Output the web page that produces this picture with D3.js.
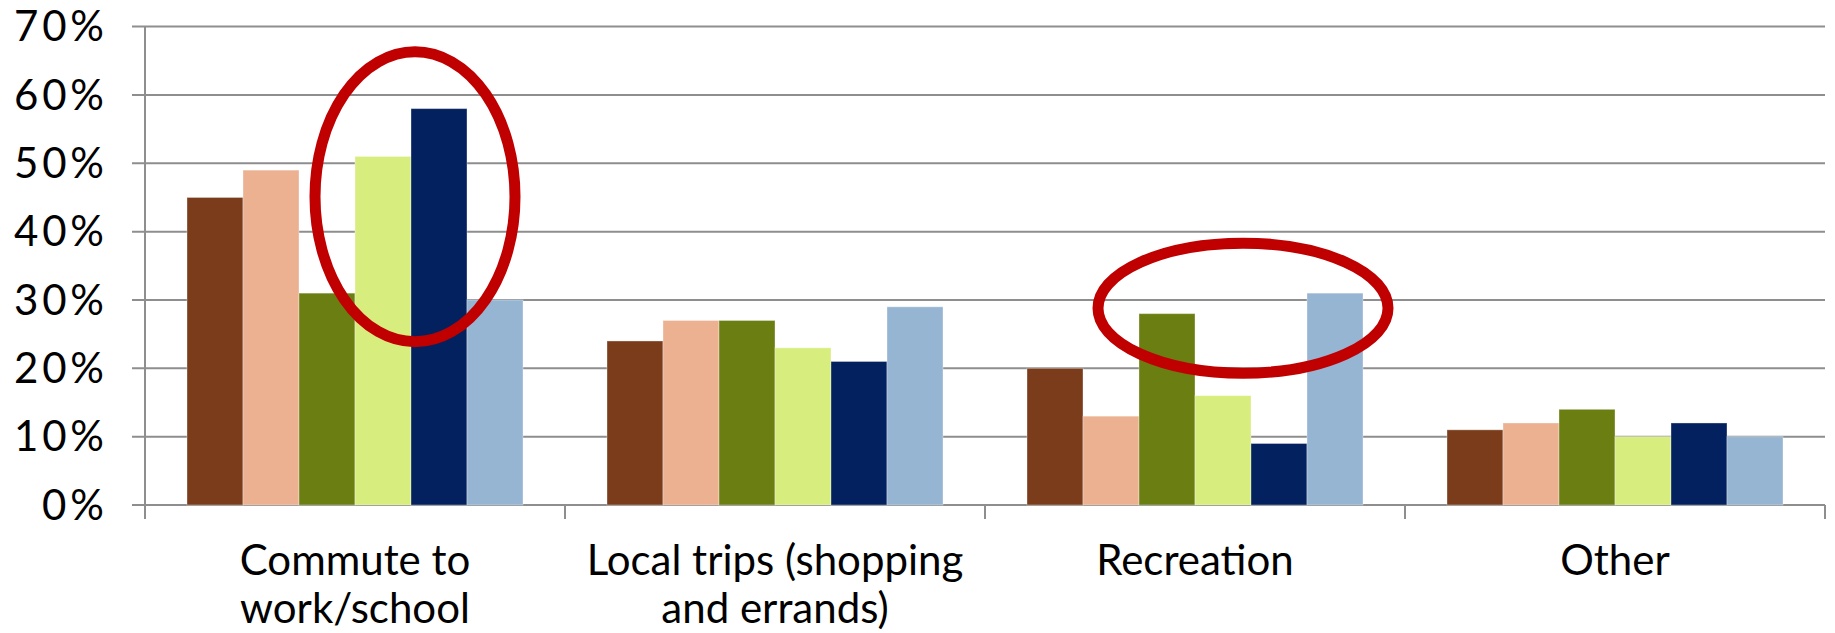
<!DOCTYPE html>
<html>
<head>
<meta charset="utf-8">
<script src="https://cdn.jsdelivr.net/npm/d3@7"></script>
<style>
  html, body { margin: 0; padding: 0; background: #fff; }
  svg { display: block; }
  text { font-family: "Lato", "Noto Sans", sans-serif; fill: #000; }
</style>
</head>
<body>
<svg id="chart" width="1835" height="633"></svg>
<script>
// Trip purpose categories (two-line labels)
const categories = ["Commute to work/school", "Local trips (shopping and errands)", "Recreation", "Other"];
const categoryLines = [["Commute to", "work/school"], ["Local trips (shopping", "and errands)"], ["Recreation"], ["Other"]];

// Six respondent groups, share of trips (%) per category
const seriesKeys = ["g1", "g2", "g3", "g4", "g5", "g6"];
const g1 = [45, 24, 20, 11];
const g2 = [49, 27, 13, 12];
const g3 = [31, 27, 28, 14];
const g4 = [51, 23, 16, 10];
const g5 = [58, 21, 9, 12];
const g6 = [30, 29, 31, 10];
const seriesValues = [g1, g2, g3, g4, g5, g6];

const yTicks = [0, 10, 20, 30, 40, 50, 60, 70];

const colors = ["#7A3C1A", "#EBB191", "#6A7E12", "#D7ED7D", "#03215E", "#95B5D3"];

const svg = d3.select("#chart");

const plotLeft = 145, plotRight = 1825, plotTop = 26.6, plotBottom = 505;

const x0 = d3.scaleBand().domain(categories).range([plotLeft, plotRight]).padding(0);
const x1 = d3.scaleBand().domain(seriesKeys)
  .range([x0.bandwidth() * 0.1, x0.bandwidth() * 0.9]).padding(0);
const y = d3.scaleLinear().domain([0, 70]).range([plotBottom, plotTop]);

const gridColor = "#8E8E8E";

// Horizontal gridlines (extend left past the axis as tick marks)
svg.append("g")
  .selectAll("line")
  .data(yTicks)
  .join("line")
  .attr("x1", plotLeft - 13)
  .attr("x2", plotRight)
  .attr("y1", d => y(d))
  .attr("y2", d => y(d))
  .attr("stroke", gridColor)
  .attr("stroke-width", 2);

// Y-axis labels
svg.append("g")
  .selectAll("text")
  .data(yTicks)
  .join("text")
  .attr("x", 104)
  .attr("y", d => y(d) + 14.8)
  .attr("text-anchor", "end")
  .attr("font-size", 42)
  .attr("textLength", d => (d === 0 ? 62 : 90))
  .attr("lengthAdjust", "spacing")
  .text(d => d + "%");

// Vertical axis line
svg.append("line")
  .attr("x1", plotLeft).attr("x2", plotLeft)
  .attr("y1", plotTop).attr("y2", plotBottom + 14)
  .attr("stroke", gridColor).attr("stroke-width", 2);

// Category boundary ticks below the baseline
const boundaries = categories.map(c => x0(c) + x0.bandwidth());
svg.append("g")
  .selectAll("line")
  .data(boundaries)
  .join("line")
  .attr("x1", d => d).attr("x2", d => d)
  .attr("y1", plotBottom).attr("y2", plotBottom + 14)
  .attr("stroke", gridColor).attr("stroke-width", 2);

// Bars
const groups = svg.append("g")
  .selectAll("g")
  .data(categories)
  .join("g")
  .attr("transform", c => `translate(${x0(c)},0)`);

groups.selectAll("rect")
  .data((c, ci) => seriesKeys.map((k, si) => ({ key: k, si, value: seriesValues[si][ci] })))
  .join("rect")
  .attr("x", d => x1(d.key))
  .attr("y", d => y(d.value))
  .attr("width", x1.bandwidth())
  .attr("height", d => y(0) - y(d.value))
  .attr("fill", d => colors[d.si])
  .attr("stroke", "rgba(255,255,255,0.35)")
  .attr("stroke-width", 1);

// Category labels
const labels = svg.append("g")
  .selectAll("text")
  .data(categories)
  .join("text")
  .attr("text-anchor", "middle")
  .attr("font-size", 42)
  .attr("x", c => x0(c) + x0.bandwidth() / 2)
  .attr("y", 575);

labels.each(function (c, i) {
  d3.select(this).selectAll("tspan")
    .data(categoryLines[i])
    .join("tspan")
    .attr("x", x0(c) + x0.bandwidth() / 2)
    .attr("dy", (d, j) => j === 0 ? 0 : 48)
    .text(d => d);
});

// Highlight ellipses
const highlights = [
  { category: categories[0], anchor: seriesKeys[4], dx: 4, value: 45.1, rx: 100, ry: 145 },
  { category: categories[2], anchor: seriesKeys[3], dx: 48, value: 28.8, rx: 145, ry: 65 }
];

svg.append("g")
  .selectAll("ellipse")
  .data(highlights)
  .join("ellipse")
  .attr("cx", d => x0(d.category) + x1(d.anchor) + d.dx)
  .attr("cy", d => y(d.value))
  .attr("rx", d => d.rx)
  .attr("ry", d => d.ry)
  .attr("fill", "none")
  .attr("stroke", "#C00000")
  .attr("stroke-width", 11);
</script>
</body>
</html>
